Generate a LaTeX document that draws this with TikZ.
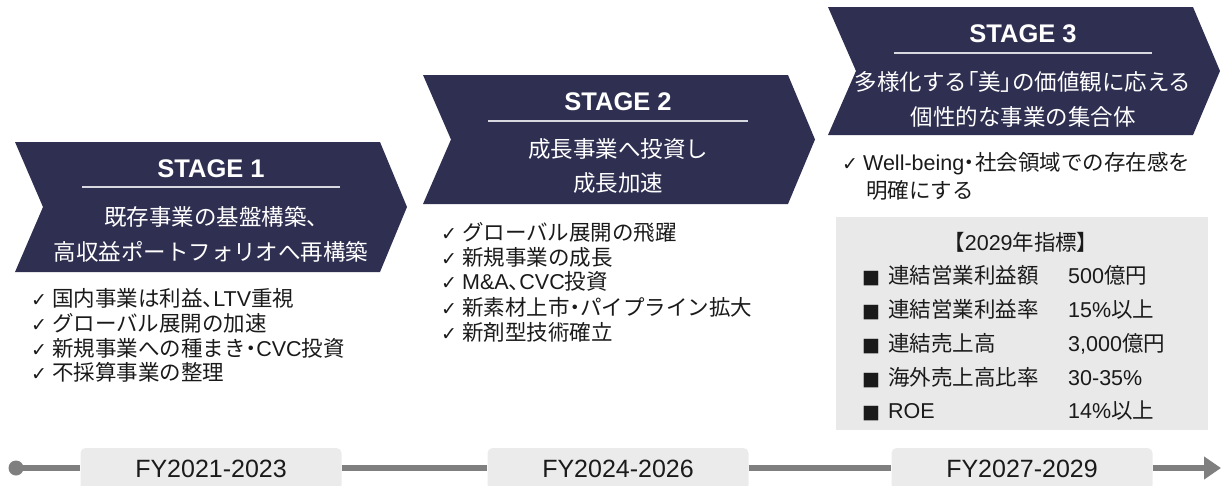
\documentclass[tikz,border=0pt]{standalone}
\usepackage{fontspec}
\setmainfont{Liberation Sans}
\newfontfamily\jp{Noto Sans CJK JP}
\newfontfamily\jpp[RawFeature={+palt}]{Noto Sans CJK JP}
\newfontfamily\sym{DejaVu Sans}
\usetikzlibrary{arrows.meta}
\definecolor{navy}{HTML}{2F2F52}
\definecolor{ink}{HTML}{1A1A1A}
\definecolor{sepc}{HTML}{D8D8E0}
\definecolor{boxc}{HTML}{E9E9E9}
\definecolor{fyc}{HTML}{EBEBEB}
\definecolor{tlc}{HTML}{7F7F7F}
\newcommand\chk{{\sym\fontsize{19}{19}\selectfont ✓}\hspace{5pt}}
\newcommand\sq{{\sym\fontsize{19}{19}\selectfont ■}\hspace{8pt}}
\newcommand\pp[1]{{\jpp #1}}
\newcommand\chevshape[3]{%
  \fill[navy] (#1,#2) -- ({#1+365},#2) -- ({#1+392},{(#2+#3)/2}) -- ({#1+365},#3)
    -- (#1,#3) -- ({#1+28},{(#2+#3)/2}) -- cycle;}
\tikzset{
  stg/.style={text=white, font=\fontsize{25.5}{30}\selectfont\bfseries, inner sep=0pt, text height=18.2pt, text depth=0pt},
  sdesc/.style={text=white, font=\fontsize{22.5}{27}\selectfont\jp, inner sep=0pt, text height=19.8pt, text depth=2.7pt},
  item/.style={text=ink, anchor=west, font=\fontsize{21.5}{26}\selectfont, inner sep=0pt, text height=18.9pt, text depth=2.6pt},
  sepline/.style={draw=sepc, line width=1.3pt},
  fy/.style={fill=fyc, rounded corners=5pt, minimum width=261pt, minimum height=42pt, inner sep=0pt,
    font=\fontsize{25}{30}\selectfont, text=ink, text height=17.9pt, text depth=0pt},
  tl/.style={draw=tlc, line width=6pt},
}
\begin{document}
\begin{tikzpicture}[x=1pt,y=-1pt]
\useasboundingbox (0,0) rectangle (1224,485);
% chevrons
\chevshape{15}{142}{272}
\chevshape{423}{75}{204}
\chevshape{828}{7}{135}
% stage 1
\node[stg] (s1t) at (211,168) {STAGE 1};
\draw[sepline] (82,187) -- (340,187);
\node[sdesc] (s1a) at (211,217) {既存事業の基盤構築\pp{、}};
\node[sdesc] (s1b) at (211,252) {高収益ポートフォリオへ再構築};
% stage 2
\node[stg] (s2t) at (618,101) {STAGE 2};
\draw[sepline] (488,121) -- (748,121);
\node[sdesc] (s2a) at (618,149) {成長事業へ投資し};
\node[sdesc] (s2b) at (618,183) {成長加速};
% stage 3
\node[stg] (s3t) at (1023,33) {STAGE 3};
\draw[sepline] (894,53) -- (1152,53);
\node[sdesc] (s3a) at (1023,82) {多様化する\pp{「}美\pp{」}の価値観に応える};
\node[sdesc] (s3b) at (1023,117) {個性的な事業の集合体};
% stage 1 list
\node[item] (l11) at (31,298) {\chk{\jp 国内事業は利益\pp{、}}LTV{\jp 重視}};
\node[item] (l12) at (31,323) {\chk{\jp グローバル展開の加速}};
\node[item] (l13) at (31,348) {\chk{\jp 新規事業への種まき\pp{・}}CVC{\jp 投資}};
\node[item] (l14) at (31,372) {\chk{\jp 不採算事業の整理}};
% stage 2 list
\node[item] (l21) at (441,232) {\chk{\jp グローバル展開の飛躍}};
\node[item] (l22) at (441,257) {\chk{\jp 新規事業の成長}};
\node[item] (l23) at (441,281) {\chk M\&A\pp{、}CVC{\jp 投資}};
\node[item] (l24) at (441,307) {\chk{\jp 新素材上市\pp{・}パイプライン拡大}};
\node[item] (l25) at (441,332) {\chk{\jp 新剤型技術確立}};
% stage 3 list
\node[item] (l31) at (842,162) {\chk Well-being\pp{・}{\jp 社会領域での存在感を}};
\node[item] (l32) at (866,190) {{\jp 明確にする}};
% KPI box
\fill[boxc] (836,217) rectangle (1208,430);
\node[item, anchor=center] (kt) at (1021,242) {\pp{【}2029{\jp 年指標}\pp{】}};
\node[item] (k1) at (862,275) {\sq{\jp 連結営業利益額}};
\node[item] (k2) at (862,309) {\sq{\jp 連結営業利益率}};
\node[item] (k3) at (862,343) {\sq{\jp 連結売上高}};
\node[item] (k4) at (862,377) {\sq{\jp 海外売上高比率}};
\node[item] (k5) at (862,410) {\sq ROE};
\node[item] (v1) at (1068,275) {500{\jp 億円}};
\node[item] (v2) at (1068,309) {15\%{\jp 以上}};
\node[item] (v3) at (1068,343) {3,000{\jp 億円}};
\node[item] (v4) at (1068,377) {30-35\%};
\node[item] (v5) at (1068,410) {14\%{\jp 以上}};
% timeline
\node[circle, fill=tlc, minimum size=15pt, inner sep=0pt] (dot) at (16,468) {};
\node[fy] (fy1) at (211,469) {FY2021-2023};
\node[fy] (fy2) at (618,469) {FY2024-2026};
\node[fy] (fy3) at (1022,469) {FY2027-2029};
\coordinate (tlend) at (1221,468);
\draw[tl] (dot.center) -- (dot.center -| fy1.west);
\draw[tl] (fy1.east |- 0,468) -- (fy2.west |- 0,468);
\draw[tl] (fy2.east |- 0,468) -- (fy3.west |- 0,468);
\draw[tl, -{Triangle[length=17pt,width=22pt]}] (fy3.east |- tlend) -- (tlend);
\end{tikzpicture}
\end{document}
